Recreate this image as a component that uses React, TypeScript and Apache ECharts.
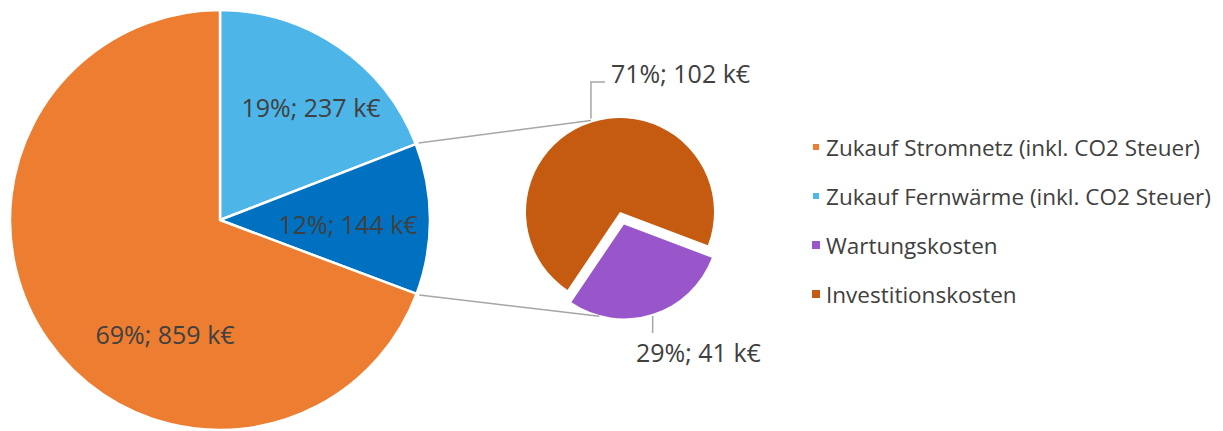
import React, { useEffect, useRef } from "react";
import * as echarts from "echarts";

// ---- data ----
const mainNames = [
  "Zukauf Fernwärme (inkl. CO2 Steuer)",
  "Sonstige Kosten",
  "Zukauf Stromnetz (inkl. CO2 Steuer)",
];
const mainValues = [237, 144, 859];
const subNames = ["Investitionskosten", "Wartungskosten"];
const subValues = [102, 41];
const legendNames = [
  "Zukauf Stromnetz (inkl. CO2 Steuer)",
  "Zukauf Fernwärme (inkl. CO2 Steuer)",
  "Wartungskosten",
  "Investitionskosten",
];
const colorByName: Record<string, string> = {
  "Zukauf Stromnetz (inkl. CO2 Steuer)": "#ED7D31",
  "Zukauf Fernwärme (inkl. CO2 Steuer)": "#4DB5E8",
  "Sonstige Kosten": "#0070C0",
  Wartungskosten: "#9955CA",
  Investitionskosten: "#C55A11",
};

// ---- layout ----
const FONT = "'Open Sans', 'Noto Sans', sans-serif";
const TXT = "#404040";
const LINE = "#A6A6A6";
const M_CX = 220, M_CY = 220, M_R = 210;
const S_CX = 620, S_CY = 212, S_R = 94;
const S_START = 236; // echarts degrees
const S_OFFSET = 13;
const mainLabelPos = [
  [311, 107],
  [348, 224],
  [165, 334],
];
const subLabelPos = [
  [611, 73],
  [636, 352],
];

function pt(cx: number, cy: number, r: number, degFromTopCw: number) {
  const a = (degFromTopCw * Math.PI) / 180;
  return [cx + r * Math.sin(a), cy - r * Math.cos(a)];
}

export default function App() {
  const ref = useRef<HTMLDivElement>(null);
  useEffect(() => {
    if (!ref.current) return;
    const chart = echarts.init(ref.current, undefined, { renderer: "svg" });

    const mainTotal = mainValues.reduce((a, b) => a + b, 0);
    const th1 = (360 * mainValues[0]) / mainTotal;
    const th2 = (360 * (mainValues[0] + mainValues[1])) / mainTotal;
    const subTotal = subValues.reduce((a, b) => a + b, 0);
    const subStartCw = 90 - S_START; // clockwise from top
    const orangeMid = subStartCw + ((360 * subValues[0]) / subTotal) / 2;
    const purpleMid = subStartCw + (360 * subValues[0]) / subTotal + ((360 * subValues[1]) / subTotal) / 2;
    const pr = (purpleMid * Math.PI) / 180;
    const pcx = S_CX + S_OFFSET * Math.sin(pr);
    const pcy = S_CY - S_OFFSET * Math.cos(pr);

    const c1a = pt(M_CX, M_CY, M_R + 3, th1);
    const c1b = pt(S_CX, S_CY, S_R + 2, orangeMid);
    const c2a = pt(M_CX, M_CY, M_R + 3, th2);
    const c2b = pt(pcx, pcy, S_R + 1, 195);
    const l1 = pt(S_CX, S_CY, S_R + 2, orangeMid);
    const l2 = pt(pcx, pcy, S_R + 1, purpleMid);

    const labelFmt = (p: any) => `${Math.round(p.percent)}%; ${p.value} k€`;
    const baseLabel = {
      show: true,
      formatter: labelFmt,
      fontFamily: FONT,
      fontSize: 25,
      color: TXT,
    };

    // sub pie split into two series: one in place, one exploded
    const subSeries = (visibleIdx: number, center: number[]) => ({
      type: "pie",
      center,
      radius: S_R,
      startAngle: S_START,
      clockwise: true,
      avoidLabelOverlap: false,
      silent: true,
      itemStyle: { borderWidth: 0 },
      label: { ...baseLabel, position: "outside" },
      labelLine: { show: false },
      labelLayout: (p: any) => ({
        x: subLabelPos[p.dataIndex][0],
        y: subLabelPos[p.dataIndex][1],
        align: "left",
        verticalAlign: "middle",
      }),
      emphasis: { disabled: true },
      data: subNames.map((n, i) =>
        i === visibleIdx
          ? { name: n, value: subValues[i], itemStyle: { color: colorByName[n] } }
          : {
              name: "_" + n,
              value: subValues[i],
              itemStyle: { color: "rgba(0,0,0,0)" },
              label: { show: false },
            }
      ),
    });

    chart.setOption({
      animation: false,
      legend: {
        data: legendNames,
        orient: "vertical",
        left: 806,
        top: 127,
        icon: "rect",
        itemWidth: 8,
        itemHeight: 8,
        itemGap: 19,
        selectedMode: false,
        textStyle: {
          fontFamily: FONT,
          fontSize: 22.5,
          color: TXT,
          lineHeight: 30,
          padding: [0, 0, 0, 1],
        },
      },
      series: [
        {
          type: "pie",
          center: [M_CX, M_CY],
          radius: M_R,
          startAngle: 90,
          clockwise: true,
          avoidLabelOverlap: false,
          silent: true,
          itemStyle: { borderColor: "#fff", borderWidth: 2.5 },
          label: { ...baseLabel, position: "inside" },
          labelLine: { show: false },
          labelLayout: (p: any) => ({
            x: mainLabelPos[p.dataIndex][0],
            y: mainLabelPos[p.dataIndex][1],
            align: "center",
            verticalAlign: "middle",
          }),
          emphasis: { disabled: true },
          data: mainNames.map((n, i) => ({
            name: n,
            value: mainValues[i],
            itemStyle: { color: colorByName[n] },
          })),
        },
        subSeries(0, [S_CX, S_CY]),
        subSeries(1, [pcx, pcy]),
      ],
      graphic: [
        {
          type: "line",
          silent: true,
          shape: { x1: c1a[0], y1: c1a[1], x2: c1b[0], y2: c1b[1] },
          style: { stroke: LINE, lineWidth: 1.5 },
        },
        {
          type: "line",
          silent: true,
          shape: { x1: c2a[0], y1: c2a[1], x2: c2b[0], y2: c2b[1] },
          style: { stroke: LINE, lineWidth: 1.5 },
        },
        {
          type: "polyline",
          silent: true,
          shape: { points: [[l1[0], l1[1] - 2], [l1[0], 82], [605, 82]] },
          style: { stroke: LINE, lineWidth: 1.5, fill: null },
        },
        {
          type: "polyline",
          silent: true,
          shape: { points: [[l2[0], l2[1] + 1], [l2[0], 333]] },
          style: { stroke: LINE, lineWidth: 1.5, fill: null },
        },
      ],
    });
    return () => chart.dispose();
  }, []);
  return (
    <div
      ref={ref}
      style={{ position: "absolute", left: 0, top: 0, width: 1223, height: 431 }}
    />
  );
}
